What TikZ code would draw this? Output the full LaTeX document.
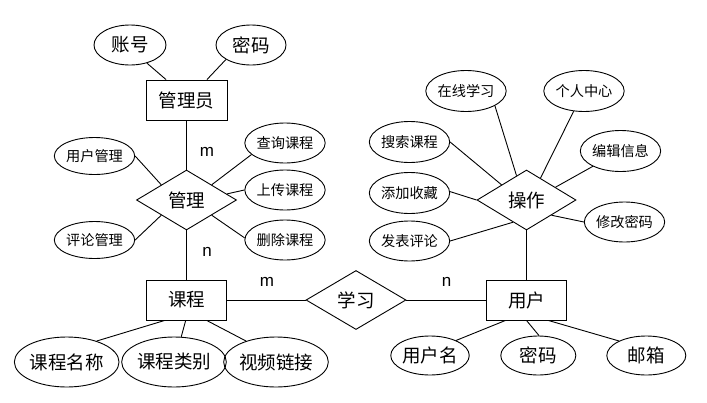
\documentclass[tikz,border=0pt]{standalone}
\usepackage{fontspec}
\setmainfont{Noto Sans CJK SC}
\newfontfamily\latfont{Liberation Sans}
\usetikzlibrary{shapes.geometric,calc}
\begin{document}
\begin{tikzpicture}[x=1pt,y=-1pt,line width=0.9pt,
 every node/.style={inner sep=0pt,font=\fontsize{18.5}{20}\selectfont},
 ent/.style={draw,rectangle,minimum width=80pt,minimum height=40pt},
 rel/.style={draw,diamond,minimum width=100pt,minimum height=60pt},
 attr/.style={draw,ellipse,minimum width=75pt,minimum height=40pt},
 sattr/.style={attr,font=\fontsize{14.2}{16}\selectfont},
 battr/.style={attr,minimum height=50pt},
 lbl/.style={font=\latfont\fontsize{17}{19}\selectfont}]
\useasboundingbox (0,0) rectangle (707,402);
% entities
\node[ent,minimum width=81pt] (gly) at (186.5,100) {管理员};
\node[ent] (kc) at (186.5,300) {课程};
\node[ent,minimum width=80pt] (yh) at (526.5,300) {用户};
% relations
\node[rel] (gl) at (186.5,200) {管理};
\node[rel,minimum height=59pt] (xx) at (356,300) {学习};
\node[rel,minimum width=99pt] (cz) at (526.5,200) {操作};
% admin attributes
\node[attr,minimum width=72pt] (zh) at (130,45) {账号};
\node[attr,minimum width=70pt] (mm) at (251,45) {密码};
% manage attributes
\node[sattr,minimum height=37pt] (yhgl) at (94.5,156) {用户管理};
\node[sattr,minimum height=37pt] (plgl) at (94.5,240) {评论管理};
\node[sattr] (cxkc) at (285,143) {查询课程};
\node[sattr] (sckc) at (285,190) {上传课程};
\node[sattr] (sckc2) at (285,240) {删除课程};
% course attributes
\node[battr,minimum width=80pt] (kcmc) at (66.7,362) {课程名称};
\node[battr,minimum width=85pt] (kclb) at (174,362) {课程类别};
\node[battr,minimum width=80pt] (spl) at (276,362) {视频链接};
% user attributes
\node[attr,minimum height=39pt] (yhm) at (430,355.5) {用户名};
\node[attr,minimum height=39pt] (mm2) at (538.3,355.5) {密码};
\node[attr,minimum width=79pt,minimum height=39pt] (yx) at (646.3,355.5) {邮箱};
% operate attributes
\node[sattr,minimum width=76pt,minimum height=41pt] (zxxx) at (466,91) {在线学习};
\node[sattr,minimum width=76pt,minimum height=41pt] (grzx) at (584,91) {个人中心};
\node[sattr,minimum height=41pt] (sskc) at (409.5,142) {搜索课程};
\node[sattr,minimum height=41pt] (bjxx) at (620.5,151) {编辑信息};
\node[sattr,minimum height=41pt] (tjsc) at (409.5,193) {添加收藏};
\node[sattr] (xgmm) at (624.5,222) {修改密码};
\node[sattr] (fbpl) at (409.5,241) {发表评论};
% cardinality labels
\node[lbl] (m1) at (207,152) {m};
\node[lbl] (n1) at (207,252) {n};
\node[lbl] (m2) at (267,282) {m};
\node[lbl] (n2) at (446.7,282) {n};
% connectors
\draw ($(gly.north west)!0.25!(gly.north east)$) -- (zh.-47);
\draw ($(gly.north west)!0.75!(gly.north east)$) -- (mm.-150);
\draw (gly) -- (gl);
\draw (gl) -- (kc);
\draw ($(gl.north)!0.5!(gl.west)$) -- (yhgl.0);
\draw ($(gl.north)!0.5!(gl.east)$) -- (cxkc.-161);
\draw ($(gl.north)!0.8!(gl.east)$) -- (sckc.180);
\draw ($(gl.south)!0.5!(gl.east)$) -- (sckc2.177);
\draw ($(gl.south)!0.5!(gl.west)$) -- (plgl.0);
\draw (kc) -- (xx);
\draw (xx) -- (yh);
\draw ($(kc.south west)!0.23!(kc.south east)$) -- (kcmc.35);
\draw ($(kc.south west)!0.49!(kc.south east)$) -- (kclb.74);
\draw ($(kc.south west)!0.75!(kc.south east)$) -- (spl.145);
\draw ($(yh.south west)!0.24!(yh.south east)$) -- (yhm.30);
\draw ($(yh.south west)!0.5!(yh.south east)$) -- (mm2.88);
\draw ($(yh.south west)!0.77!(yh.south east)$) -- (yx.152);
\draw (cz) -- (yh);
\draw ($(cz.north)!0.2!(cz.west)$) -- (zxxx.-27);
\draw ($(cz.north)!0.28!(cz.east)$) -- (grzx.-117);
\draw ($(cz.north)!0.5!(cz.west)$) -- (sskc.0);
\draw ($(cz.north)!0.58!(cz.east)$) -- (bjxx.-151);
\draw (cz.west) -- (tjsc.2);
\draw ($(cz.south)!0.5!(cz.east)$) -- (xgmm.180);
\draw ($(cz.south)!0.27!(cz.west)$) -- (fbpl.0);
\end{tikzpicture}
\end{document}
